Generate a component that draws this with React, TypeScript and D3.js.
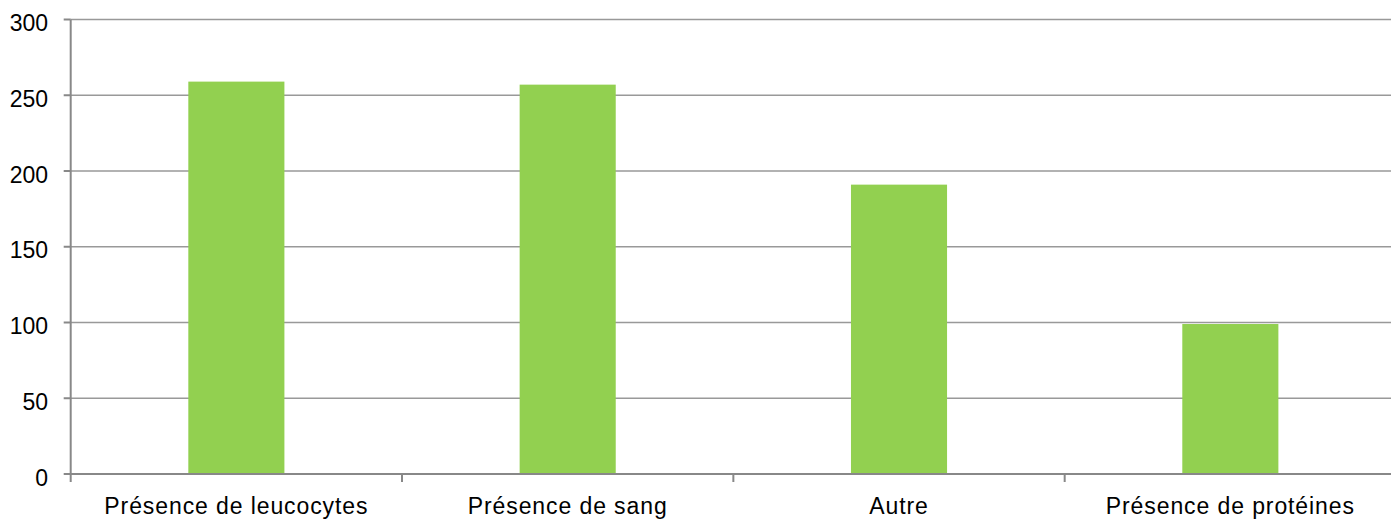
import React from "react";
import * as d3 from "d3";

const categories = ["Présence de leucocytes", "Présence de sang", "Autre", "Présence de protéines"];
const values = [259, 257, 191, 99];
const yTicks = [0, 50, 100, 150, 200, 250, 300];

const W = 1391;
const H = 519;
const left = 70.7;
const right = 1396;
const top = 19.5;
const bottom = 474;

export default function App() {
  const x = d3.scaleBand<string>().domain(categories).range([left, right]).paddingInner(0.71).paddingOuter(0.355);
  const y = d3.scaleLinear().domain([0, 300]).range([bottom, top]);
  const step = x.step();
  const boundaries = d3.range(categories.length + 1).map((i) => left + i * step);
  const font = "'Liberation Sans', Arial, sans-serif";
  return (
    <svg width={W} height={H} style={{ position: "absolute", left: 0, top: 0, background: "#fff" }}>
      {yTicks.filter((t) => t > 0).map((t) => (
        <line key={"g" + t} x1={left} x2={right} y1={y(t)} y2={y(t)} stroke="#999" strokeWidth={1.6} />
      ))}
      {categories.map((c, i) => (
        <rect key={c} x={x(c)} y={y(values[i])} width={x.bandwidth()} height={bottom - y(values[i])} fill="#92d050" />
      ))}
      <line x1={left} x2={left} y1={top} y2={bottom} stroke="#888" strokeWidth={2} />
      <line x1={left} x2={right} y1={bottom} y2={bottom} stroke="#888" strokeWidth={2} />
      {yTicks.map((t) => (
        <g key={"t" + t}>
          <line x1={left - 7} x2={left} y1={y(t)} y2={y(t)} stroke="#888" strokeWidth={2} />
          <text x={48} y={y(t) + 11.5} textAnchor="end" fontFamily={font} fontSize={23} fill="#000">
            {t}
          </text>
        </g>
      ))}
      {boundaries.map((b, i) => (
        <line key={"b" + i} x1={b} x2={b} y1={bottom} y2={bottom + 8} stroke="#888" strokeWidth={2} />
      ))}
      {categories.map((c) => (
        <text key={"l" + c} x={(x(c) as number) + x.bandwidth() / 2} y={514} textAnchor="middle" fontFamily={font} fontSize={23} letterSpacing={0.9} fill="#000">
          {c}
        </text>
      ))}
    </svg>
  );
}
